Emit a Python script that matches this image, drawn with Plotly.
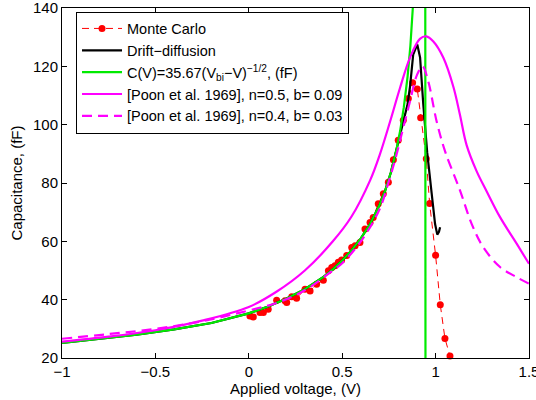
import plotly.graph_objects as go

# ---- data ----
V_mc = [0.006, 0.024, 0.060, 0.078, 0.104, 0.149, 0.194, 0.203, 0.230, 0.256,
        0.301, 0.328, 0.363, 0.399, 0.426, 0.444, 0.461, 0.479, 0.497, 0.524,
        0.551, 0.569, 0.595, 0.622, 0.649, 0.666, 0.693, 0.720, 0.747, 0.774,
        0.800, 0.827, 0.854, 0.877, 0.902, 0.920, 0.950, 0.968, 1.000, 1.025,
        1.050, 1.077]
C_mc = [34.4, 34.1, 35.6, 35.6, 36.7, 39.8, 39.6, 39.0, 41.0, 40.5,
        43.6, 43.0, 45.3, 46.7, 49.9, 51.0, 51.6, 52.8, 53.6, 55.1,
        57.9, 58.5, 59.6, 64.2, 66.5, 68.2, 72.9, 76.3, 80.3, 88.0,
        94.7, 101.5, 109.0, 114.4, 112.2, 102.4, 88.3, 73.0, 55.2, 38.3,
        26.7, 20.7]

V_dd = [-1.0, -0.8, -0.6, -0.4, -0.2, 0.0, 0.1, 0.2, 0.3, 0.4, 0.45, 0.5, 0.55,
        0.6, 0.65, 0.7, 0.73, 0.76, 0.79, 0.81, 0.83, 0.85, 0.863, 0.88, 0.902,
        0.917, 0.934, 0.955, 0.979, 0.997, 1.009, 1.018, 1.024]
C_dd = [25.2, 26.5, 28.0, 29.8, 32.0, 35.3, 37.6, 40.3, 43.6, 47.8, 50.4, 53.4, 56.9,
        61.0, 66.0, 72.5, 77.4, 83.5, 91.0, 96.5, 102.0, 107.0, 113.0, 124.0, 127.5,
        123.0, 107.0, 90.5, 76.4, 66.0, 62.3, 63.3, 64.8]

V_fit = [-1.0, -0.8, -0.6, -0.4, -0.2, 0.0, 0.1, 0.2, 0.3, 0.4, 0.45, 0.5, 0.55,
         0.6, 0.65, 0.7, 0.73, 0.76, 0.79, 0.81, 0.83, 0.85, 0.865, 0.88, 0.9,
         0.92, 0.935, 0.94, 0.946]
C_fit = [25.2, 26.5, 28.0, 29.8, 32.0, 35.3, 37.6, 40.3, 43.6, 47.8, 50.4, 53.4, 56.9,
         61.0, 66.0, 72.5, 77.4, 83.5, 91.3, 97.8, 106.0, 116.5, 127.0, 142.0, 172.0,
         235.0, 400.0, 700.0, 0.0]

V_p1 = [-1.0, -0.75, -0.5, -0.25, 0.0, 0.15, 0.3, 0.45, 0.55, 0.65, 0.7, 0.756,
        0.809, 0.863, 0.916, 0.95, 0.988, 1.041, 1.095, 1.13, 1.166, 1.22, 1.273,
        1.345, 1.434, 1.5]
C_p1 = [25.6, 27.3, 29.5, 32.8, 37.5, 42.8, 50.0, 60.0, 68.5, 81.0, 89.5, 101.0,
        112.5, 123.0, 129.4, 130.3, 128.5, 123.0, 113.0, 103.5, 93.0, 84.0, 77.2,
        68.3, 59.2, 52.3]

V_p2 = [-1.0, -0.75, -0.5, -0.25, 0.0, 0.15, 0.3, 0.45, 0.5, 0.6, 0.7, 0.756,
        0.792, 0.827, 0.863, 0.9, 0.93, 0.96, 1.006, 1.05, 1.131, 1.193, 1.255,
        1.345, 1.434, 1.5]
C_p2 = [26.6, 28.2, 30.0, 32.6, 36.3, 38.9, 43.2, 50.0, 52.5, 60.0, 71.0, 82.0,
        90.0, 99.0, 108.0, 117.0, 120.0, 115.0, 101.0, 91.0, 77.4, 66.0, 58.0,
        51.2, 47.7, 45.5]

x_ticks = [-1, -0.5, 0, 0.5, 1, 1.5]
x_ticklabels = ["\u22121", "\u22120.5", "0", "0.5", "1", "1.5"]
y_ticks = [20, 40, 60, 80, 100, 120, 140]
y_ticklabels = ["20", "40", "60", "80", "100", "120", "140"]

FONT = "Liberation Sans, Arial, Helvetica, sans-serif"
FS = 15

fig = go.Figure()
fig.add_trace(go.Scatter(
    x=V_mc, y=C_mc, mode="lines+markers", name="Monte Carlo",
    line=dict(color="rgb(255,0,0)", width=1, dash="7px,5px"),
    marker=dict(color="rgb(255,0,0)", size=7), cliponaxis=False))
fig.add_trace(go.Scatter(
    x=V_dd, y=C_dd, mode="lines", name="Drift\u2212diffusion",
    line=dict(color="black", width=2.2)))
fig.add_trace(go.Scatter(
    x=V_fit, y=C_fit, mode="lines",
    name="C(V)=35.67(V<sub>bi</sub>\u2212V)<sup>\u22121/2</sup>, (fF)",
    line=dict(color="rgb(0,235,0)", width=2.2)))
fig.add_trace(go.Scatter(
    x=V_p1, y=C_p1, mode="lines", line_shape="spline",
    name="[Poon et al. 1969], n=0.5, b= 0.09",
    line=dict(color="rgb(255,0,255)", width=2.2)))
fig.add_trace(go.Scatter(
    x=V_p2, y=C_p2, mode="lines", line_shape="spline",
    name="[Poon et al. 1969], n=0.4, b= 0.03",
    line=dict(color="rgb(255,0,255)", width=2.2, dash="10px,6px")))

axis_common = dict(showline=True, linecolor="black", linewidth=1, mirror="ticks",
                   ticks="inside", ticklen=5, tickcolor="black", showgrid=False,
                   zeroline=False, automargin=False, ticklabeloverflow="allow",
                   tickfont=dict(size=FS, color="black", family=FONT))

fig.update_xaxes(range=[-1, 1.5], tickvals=x_ticks, ticktext=x_ticklabels,
                 title=dict(text="Applied voltage, (V)", font=dict(size=FS, color="black", family=FONT),
                            standoff=0), **axis_common)
fig.update_yaxes(range=[20, 140], tickvals=y_ticks, ticktext=y_ticklabels,
                 title=dict(text="Capacitance, (fF)", font=dict(size=FS, color="black", family=FONT),
                            standoff=6), **axis_common)

fig.update_layout(
    width=536, height=400,
    margin=dict(l=62, r=7, t=8, b=42, autoexpand=False),
    paper_bgcolor="white", plot_bgcolor="white",
    font=dict(family=FONT, size=FS, color="black"),
    showlegend=True,
    legend=dict(x=0.03, y=0.99, xanchor="left", yanchor="top",
                bgcolor="white", bordercolor="black", borderwidth=1,
                font=dict(size=14.5, color="black", family=FONT),
                tracegroupgap=0, itemwidth=40),
)

# remove the browser's default 8px body margin so the figure sits at (0,0)
fig.write_html("out.html", config={"displayModeBar": False},
               post_script="document.body.style.margin='0px';")
